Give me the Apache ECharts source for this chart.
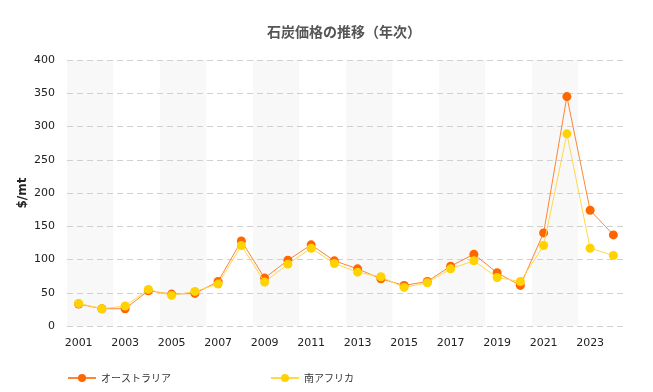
<!DOCTYPE html>
<html><head><meta charset="utf-8">
<script src="https://cdn.jsdelivr.net/npm/echarts@6/dist/echarts.min.js"></script>
<style>html,body{margin:0;padding:0;background:#fff}#c{width:653px;height:392px}</style>
</head><body><div id="c"></div>
<script>
const years = ['2001','2002','2003','2004','2005','2006','2007','2008','2009','2010','2011','2012','2013','2014','2015','2016','2017','2018','2019','2020','2021','2022','2023','2024'];
const australia = [33, 26, 26, 53, 48, 49, 67, 128, 72, 99, 122, 98, 86, 71, 61, 67, 90, 108, 80, 61, 140, 345, 174, 137];
const southAfrica = [34, 26, 30, 55, 46, 52, 63, 121, 66, 93, 117, 94, 81, 74, 58, 65, 86, 98, 73, 67, 121, 289, 117, 106];
const yTicks = [0, 400, 50];
const chart = echarts.init(document.getElementById('c'));
const font = '"Noto Sans CJK JP", "DejaVu Sans", sans-serif';
chart.setOption({
  animation: false,
  title: {text: '石炭価格の推移（年次）', left: 262, top: 20,
    textStyle: {fontSize: 14, fontWeight: 'bold', color: '#555', fontFamily: font}},
  grid: {left: 67, right: 28, top: 60, bottom: 66},
  legend: {left: 62, top: 368, itemWidth: 28, itemHeight: 10, itemGap: 99,
    textStyle: {fontSize: 10, color: '#333', fontFamily: font},
    data: ['オーストラリア', '南アフリカ']},
  xAxis: {type: 'category', data: years, boundaryGap: true, z: 0,
    axisLine: {show: false}, axisTick: {show: false},
    axisLabel: {interval: 1, color: '#222', fontSize: 11, margin: 12, fontFamily: 'Verdana, "DejaVu Sans", sans-serif'},
    splitArea: {show: true, interval: 1, areaStyle: {color: ['#f8f8f8', '#ffffff']}}},
  yAxis: {type: 'value', min: yTicks[0], max: yTicks[1], interval: yTicks[2], z: 2,
    name: '$/mt', nameLocation: 'middle', nameGap: 38, nameRotate: 90, nameMoveOverlap: false,
    nameTextStyle: {fontSize: 12, fontWeight: 'bold', color: '#222', fontFamily: 'Verdana, "DejaVu Sans", sans-serif'},
    axisLine: {show: false}, axisTick: {show: false},
    axisLabel: {color: '#222', fontSize: 11, margin: 12, fontFamily: 'Verdana, "DejaVu Sans", sans-serif'},
    splitLine: {lineStyle: {type: [6, 4], color: '#d0d0d0', width: 1}}},
  series: [
    {name: 'オーストラリア', type: 'line', data: australia, symbol: 'circle', symbolSize: 9,
      itemStyle: {color: '#ff6600'}, lineStyle: {color: '#ff8533', width: 1}, z: 3},
    {name: '南アフリカ', type: 'line', data: southAfrica, symbol: 'circle', symbolSize: 9,
      itemStyle: {color: '#ffd200'}, lineStyle: {color: '#ffd84d', width: 1}, z: 4}
  ]
});
</script></body></html>
